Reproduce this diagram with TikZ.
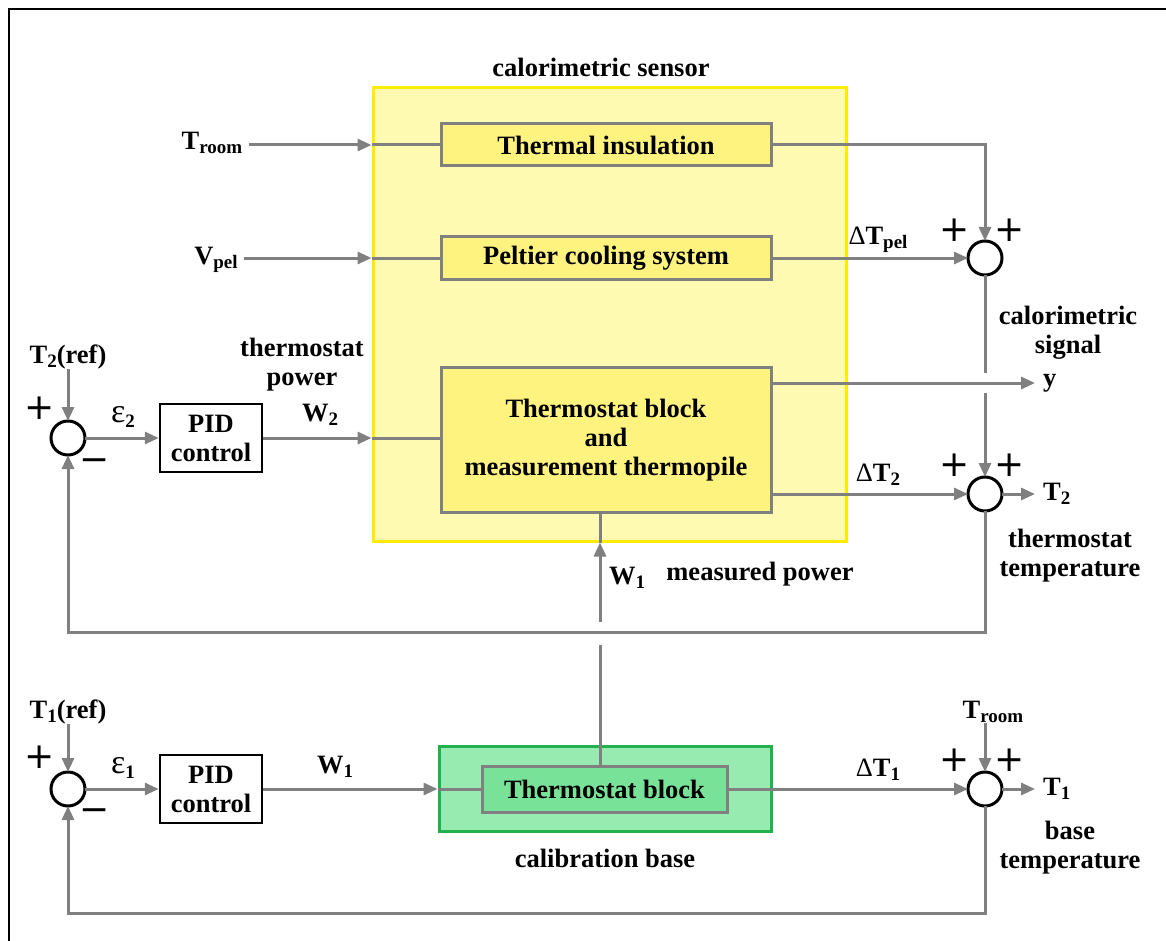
\documentclass[tikz,border=0pt]{standalone}
\usepackage{fontspec}
\setmainfont{Liberation Serif}
\newfontfamily\signfont{DejaVu Sans}
\usetikzlibrary{arrows.meta,positioning}
\definecolor{wiregray}{RGB}{128,128,128}
\definecolor{sensorfill}{RGB}{255,250,178}
\definecolor{sensoredge}{RGB}{255,236,0}
\definecolor{blockfill}{RGB}{255,243,128}
\definecolor{basefill}{RGB}{152,235,176}
\definecolor{baseedge}{RGB}{34,177,76}
\definecolor{bblockfill}{RGB}{120,227,152}
\newcommand{\sub}[1]{\raisebox{-0.35ex}{\fontsize{19}{19}\selectfont #1}}
\newcommand{\eps}{{\mdseries\fontsize{34}{34}\selectfont ε}}
\tikzset{
  lbl/.style={font=\fontsize{26.5}{29}\selectfont\bfseries, inner sep=0pt, align=center},
  sign/.style={font=\signfont\fontsize{36}{36}\selectfont, inner sep=0pt},
  wire/.style={draw=wiregray, line width=3pt},
  arr/.style={wire, -{Triangle[length=14pt,width=12pt]}},
  graybox/.style={lbl, draw=wiregray, line width=3pt, fill=blockfill, minimum width=330pt},
  pidbox/.style={lbl, draw=black, line width=2.5pt, fill=white, minimum width=102pt, minimum height=68pt},
  sum/.style={circle, draw=black, line width=3pt, minimum size=34pt, inner sep=0pt, outer sep=0pt},
}
\begin{document}
\begin{tikzpicture}[x=1pt,y=-1pt]
\useasboundingbox (0,0) rectangle (1166,941);
\draw[line width=1.5pt] (9,941) -- (9,9) -- (1166,9);
% calorimetric sensor
\node[draw=sensoredge, line width=3pt, fill=sensorfill, minimum width=473pt, minimum height=453pt] (sensor) at (609.5,314.5) {};
\node[lbl] at (601,67) {calorimetric sensor};
\node[graybox, minimum height=42pt] (ins) at (606,145) {Thermal insulation};
\node[graybox, minimum height=42pt] (pel) at (606,258) {Peltier cooling system};
\node[graybox, minimum height=145pt] (tblock) at (606,440) {Thermostat block\\and\\measurement thermopile};
% calibration base
\node[draw=baseedge, line width=3pt, fill=basefill, minimum width=332pt, minimum height=85pt] (base) at (605,789) {};
\node[graybox, fill=bblockfill, minimum width=245pt, minimum height=46pt] (bblock) at (604.5,789) {Thermostat block};
\node[lbl] at (605,858) {calibration base};
% summing points and controllers
\node[sum] (sumP) at (985,258) {};
\node[sum] (sumT) at (985,494) {};
\node[sum] (sumB) at (985,789) {};
\node[sum] (errA) at (68,438) {};
\node[sum] (errB) at (68,789) {};
\node[pidbox] (pidA) at (211,438) {PID\\control};
\node[pidbox] (pidB) at (211,789) {PID\\control};
% labels
\node[lbl] (troomA) at (212,143) {T\sub{room}};
\node[lbl] (vpel) at (216,260) {V\sub{pel}};
\node[lbl] (t2ref) at (68,357) {T\sub{2}(ref)};
\node[lbl] (t1ref) at (68,712) {T\sub{1}(ref)};
\node[lbl] (troomB) at (993,712) {T\sub{room}};
\node[lbl] at (302,365) {thermostat\\power};
\node[lbl] at (320,415) {W\sub{2}};
\node[lbl] at (123,417) {\eps\sub{2}};
\node[lbl] at (123,768) {\eps\sub{1}};
\node[lbl] at (335,767) {W\sub{1}};
\node[lbl] at (878,240) {{\mdseries Δ}T\sub{pel}};
\node[lbl] at (878,475) {{\mdseries Δ}T\sub{2}};
\node[lbl] at (878,770) {{\mdseries Δ}T\sub{1}};
\node[lbl] at (1068,333) {calorimetric\\signal};
\node[lbl] at (1070,556) {thermostat\\temperature};
\node[lbl] at (1070,848) {base\\temperature};
\node[lbl] at (627,578) {W\sub{1}};
\node[lbl] at (760,574) {measured power};
\node[sign] at (40,408) {+};
\node[sign] at (95,465) {−};
\node[sign] at (40,757) {+};
\node[sign] at (95,815) {−};
\foreach \y in {230,465,760} {
  \node[sign] at (955,\y) {+};
  \node[sign] at (1010,\y) {+};
}
% free ends
\coordinate (yout) at (1035,383);
\coordinate (t2out) at (1035,494);
\coordinate (t1out) at (1035,789);
\coordinate (gapA) at (985,373);
\coordinate (gapB) at (985,393);
\coordinate (loopA) at (68,632);
\coordinate (loopB) at (68,913);
\coordinate (wtop) at (600,622);
\coordinate (wbot) at (600,645);
\node[lbl, anchor=west] at ([xshift=8pt]yout) {y};
\node[lbl, anchor=west] at ([xshift=8pt]t2out) {T\sub{2}};
\node[lbl, anchor=west] at ([xshift=8pt]t1out) {T\sub{1}};
% connectors
\draw[arr] ([xshift=6pt]troomA.east |- ins) -- (ins -| sensor.west);
\draw[wire] (ins -| sensor.west) -- (ins.west);
\draw[arr] ([xshift=6pt]vpel.east |- pel) -- (pel -| sensor.west);
\draw[wire] (pel -| sensor.west) -- (pel.west);
\draw[arr] (ins.east) -| (sumP.north);
\draw[arr] (pel.east) -- (sumP.west);
\draw[wire] (sumP.south) -- (gapA);
\draw[arr] (gapB) -- (sumT.north);
\draw[arr] (yout -| tblock.east) -- (yout);
\draw[arr] (sumT -| tblock.east) -- (sumT.west);
\draw[arr] (sumT.east) -- (t2out);
\draw[arr] (t2ref.south) -- (errA.north);
\draw[arr] (errA.east) -- (pidA.west);
\draw[arr] (pidA.east) -- (pidA -| sensor.west);
\draw[wire] (pidA -| sensor.west) -- (pidA -| tblock.west);
\draw[arr] (sumT.south) |- (loopA) -- (errA.south);
\draw[arr] (t1ref.south) -- (errB.north);
\draw[arr] (errB.east) -- (pidB.west);
\draw[arr] (pidB.east) -- (pidB -| base.west);
\draw[wire] (pidB -| base.west) -- (bblock.west);
\draw[wire] (bblock.east) -- (bblock -| base.east);
\draw[arr] (bblock -| base.east) -- (sumB.west);
\draw[arr] (sumB |- troomB.south) -- (sumB.north);
\draw[arr] (sumB.east) -- (t1out);
\draw[arr] (sumB.south) |- (loopB) -- (errB.south);
\draw[wire] (bblock.north -| wbot) -- (wbot);
\draw[arr] (wtop) -- (wtop |- sensor.south);
\draw[wire] (wtop |- sensor.south) -- (wtop |- tblock.south);
\end{tikzpicture}
\end{document}
